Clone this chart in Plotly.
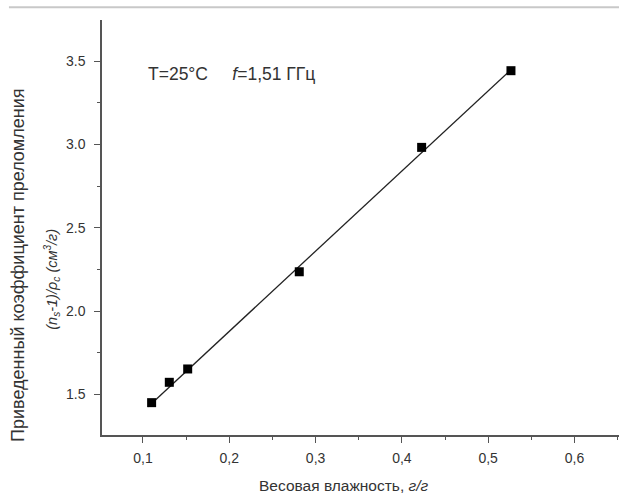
import plotly.graph_objects as go

# Data
moisture = [0.110, 0.1305, 0.1518, 0.2811, 0.4229, 0.5264]
refr = [1.451, 1.573, 1.653, 2.236, 2.982, 3.442]
fit_x = [0.106, 0.527]
fit_y = [1.427, 3.451]

x_tickvals = [0.1, 0.2, 0.3, 0.4, 0.5, 0.6]
x_ticktext = ["0,1", "0,2", "0,3", "0,4", "0,5", "0,6"]
y_tickvals = [1.5, 2.0, 2.5, 3.0, 3.5]
y_ticktext = ["1.5", "2.0", "2.5", "3.0", "3.5"]

FONT = "Liberation Sans, Arial, sans-serif"
TXT = "#333333"
AX = "#555555"

fig = go.Figure()
fig.add_trace(go.Scatter(x=fit_x, y=fit_y, mode="lines",
                         line=dict(color="#222222", width=1.3), showlegend=False))
fig.add_trace(go.Scatter(x=moisture, y=refr, mode="markers",
                         marker=dict(symbol="square", size=9, color="black"),
                         showlegend=False))

fig.update_layout(
    width=619, height=497,
    margin=dict(l=102, r=0, t=20, b=62),
    paper_bgcolor="white", plot_bgcolor="white",
    font=dict(family=FONT, color=TXT, size=12),
    xaxis=dict(range=[0.0525, 0.6516], showgrid=False, zeroline=False,
               showline=True, linecolor=AX, linewidth=1.5,
               tickvals=x_tickvals, ticktext=x_ticktext,
               ticks="outside", ticklen=6, tickwidth=1.2, tickcolor=AX,
               minor=dict(tickvals=[0.15, 0.25, 0.35, 0.45, 0.55, 0.65], ticks="outside",
                          ticklen=3, tickcolor=AX, tickwidth=1),
               tickfont=dict(size=14, color=TXT), ticklabelstandoff=3),
    yaxis=dict(range=[1.257, 3.746], showgrid=False, zeroline=False,
               showline=True, linecolor=AX, linewidth=1.5,
               tickvals=y_tickvals, ticktext=y_ticktext,
               ticks="outside", ticklen=6, tickwidth=1.2, tickcolor=AX,
               minor=dict(tickvals=[1.75, 2.25, 2.75, 3.25], ticks="outside",
                          ticklen=3, tickcolor=AX, tickwidth=1),
               tickfont=dict(size=14, color=TXT), ticklabelstandoff=6),
)

fig.add_annotation(text="Весовая влажность, <i>г/г</i>", xref="paper", yref="paper",
                   x=0.467, y=-0.122, xanchor="center", yanchor="middle",
                   showarrow=False, font=dict(size=15.5, color=TXT))
fig.add_annotation(text="Приведенный коэффициент преломления", xref="paper", yref="paper",
                   x=-0.164, y=0.408, textangle=-90, xanchor="center", yanchor="middle",
                   showarrow=False, font=dict(size=18, color=TXT))
fig.add_annotation(text="<i>(n<sub>s</sub>-1)/ρ<sub>c</sub> (см<sup>3</sup>/г)</i>",
                   xref="paper", yref="paper",
                   x=-0.096, y=0.375, textangle=-90, xanchor="center", yanchor="middle",
                   showarrow=False, font=dict(size=14.5, color=TXT))
fig.add_annotation(text="T=25°C     <i>f</i>=1,51 ГГц", xref="paper", yref="paper",
                   x=0.085, y=0.87, xanchor="left", yanchor="middle",
                   showarrow=False, font=dict(size=17.5, color=TXT))
fig.add_shape(type="line", xref="paper", yref="paper", x0=-0.18, x1=1.0,
              y0=1.031, y1=1.031, line=dict(color="#c8c8c8", width=2))

fig.write_html("out.html")
